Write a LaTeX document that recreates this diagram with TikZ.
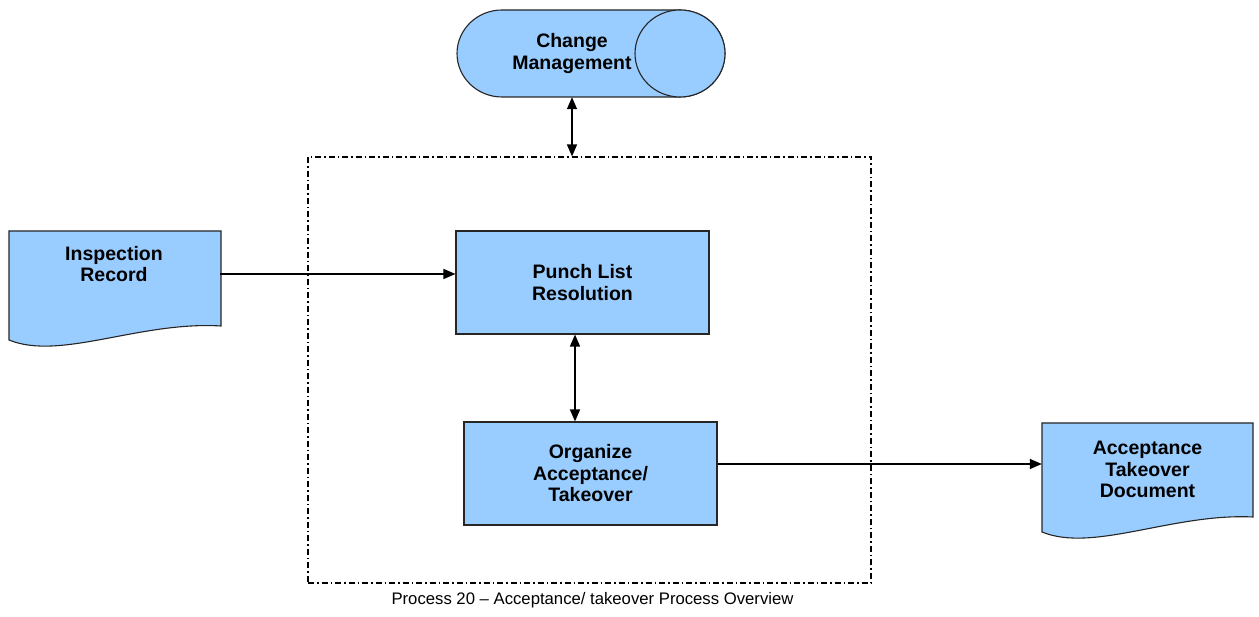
\documentclass[tikz,border=0pt]{standalone}
\usepackage{fontspec}
\setmainfont{Liberation Sans}
\usetikzlibrary{arrows.meta}
\definecolor{myblue}{HTML}{99CCFF}
\definecolor{edge}{HTML}{262626}
\tikzset{
  shapeline/.style={draw=edge, line width=1.1pt, fill=myblue},
  lbl/.style={font=\bfseries\fontsize{19.5}{21.5}\selectfont, align=center, text=black, inner sep=0pt},
  procbox/.style={shapeline, lbl, rectangle, minimum width=253pt, minimum height=103pt},
  arr/.style={line width=1.4pt, -{Triangle[length=12pt,width=10pt]}},
  darr/.style={line width=1.4pt, {Triangle[length=12pt,width=10pt]}-{Triangle[length=12pt,width=10pt]}},
  frameline/.style={draw=black, line width=1.1pt, dash pattern=on 6pt off 3pt on 1.5pt off 3pt}
}
\begin{document}
\begin{tikzpicture}[x=1pt,y=1pt]
\useasboundingbox (0,0) rectangle (1259,617);
% dashed frame
\node[frameline, minimum width=563pt, minimum height=426pt] (frame) at (589.5,247) {};
% change management cylinder
\path[shapeline] (502,607) -- (680,607) arc[start angle=90,end angle=-90,x radius=45,y radius=43.5] -- (502,520) arc[start angle=270,end angle=90,x radius=45,y radius=43.5] -- cycle;
\draw[shapeline] (680,563.5) ellipse[x radius=45,y radius=43.5];
\node[lbl, minimum height=87pt] (cm) at (572,563.5) {Change\\Management};
% inspection record document
\path[shapeline] (9,386) -- (221,386) -- (221,291) .. controls (140,296) and (60,256) .. (9,277) -- cycle;
\node[lbl, minimum width=212pt, minimum height=40pt] (insp) at (114,353) {Inspection\\Record};
% process boxes
\node[procbox] (punch) at (582.5,334.5) {Punch List\\Resolution};
\node[procbox] (org) at (590.5,143.5) {Organize\\Acceptance/\\Takeover};
% acceptance takeover document
\path[shapeline] (1042,194) -- (1253,194) -- (1253,100) .. controls (1173,104) and (1093,64) .. (1042,85) -- cycle;
\node[lbl, minimum width=211pt, minimum height=60pt] (acc) at (1147.5,147.5) {Acceptance\\Takeover\\Document};
% connectors
\draw[darr] (cm.south) -- (cm.south |- frame.north);
\draw[arr] ([yshift=-10pt]insp.east) -- ([yshift=-10pt]insp.east -| punch.west);
\draw[darr] ([xshift=-7.5pt]punch.south) -- ([xshift=-7.5pt]punch.south |- org.north);
\draw[arr] ([yshift=9.5pt]org.east) -- ([yshift=9.5pt]org.east -| acc.west);
% caption
\node[font=\fontsize{16.7}{20}\selectfont, inner sep=0pt] (cap) at (592.5,17) {Process 20 – Acceptance/ takeover Process Overview};
\end{tikzpicture}
\end{document}
